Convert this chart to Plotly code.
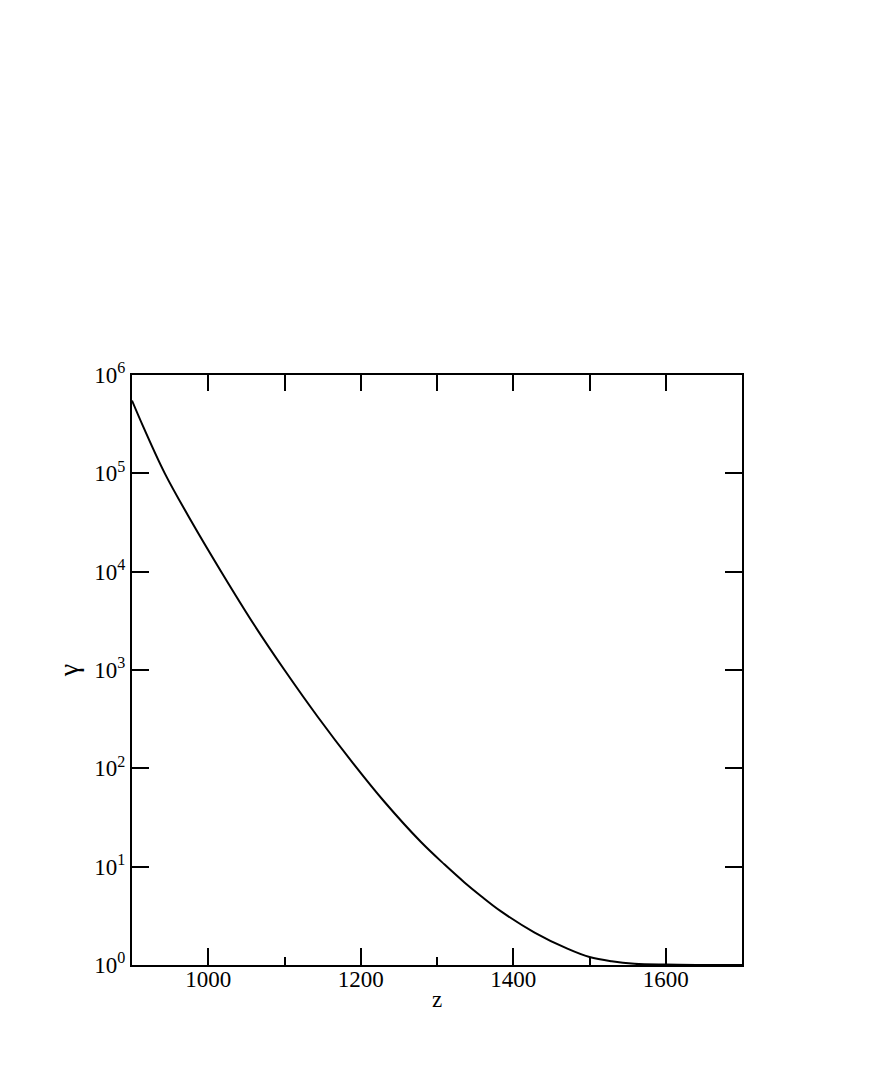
import plotly.graph_objects as go

# values (z vs gamma, log y axis)
z = [900, 915, 943, 978, 1017, 1061, 1100, 1144, 1189, 1231, 1279, 1310,
     1336, 1358, 1384, 1428, 1471, 1500, 1529, 1559, 1600, 1650, 1700]
gamma = [5.5e5, 2.95e5, 1.0e5, 3.24e4, 1.0e4, 2818, 1000, 331, 115, 45.7, 17.8, 10.5,
         6.92, 5.01, 3.51, 2.14, 1.466, 1.205, 1.091, 1.030, 1.009, 1.002, 1.0]

y_tickvals = [1, 10, 100, 1e3, 1e4, 1e5, 1e6]
y_ticktext = ["10<sup>%d</sup>" % k for k in range(7)]
x_tickvals = [1000, 1200, 1400, 1600]

FONT = "Liberation Serif, Times New Roman, serif"

fig = go.Figure()
fig.add_trace(go.Scatter(x=z, y=gamma, mode="lines", line_shape="spline",
                         line=dict(color="black", width=2, smoothing=1.0),
                         showlegend=False, hoverinfo="x+y"))
# invisible trace so the top axis gets drawn
fig.add_trace(go.Scatter(x=[900, 1700], y=[1, 1], xaxis="x2", mode="lines",
                         line=dict(width=0), showlegend=False, hoverinfo="skip"))

fig.update_layout(
    width=872, height=1090,
    margin=dict(l=124, r=138, t=367, b=133),
    paper_bgcolor="white", plot_bgcolor="white",
    font=dict(family=FONT, size=23, color="black"),
    xaxis=dict(
        range=[900, 1700], tickvals=x_tickvals, ticks="inside", ticklen=17,
        tickwidth=1.5, tickcolor="black", ticklabelstandoff=-8,
        minor=dict(tickvals=[1100, 1300, 1500], ticks="inside", ticklen=8,
                   tickwidth=1.5, tickcolor="black"),
        showline=True, linecolor="black", linewidth=2, showgrid=False,
        zeroline=False, tickfont=dict(size=23),
        title=dict(text="z", font=dict(size=23), standoff=0),
    ),
    xaxis2=dict(
        range=[900, 1700], overlaying="x", side="top", dtick=100, tick0=900,
        ticks="inside", ticklen=16, tickwidth=1.5, tickcolor="black",
        showticklabels=False, showline=True, linecolor="black", linewidth=2,
        showgrid=False, zeroline=False,
    ),
    yaxis=dict(
        type="log", range=[0, 6], tickvals=y_tickvals, ticktext=y_ticktext,
        ticks="inside", ticklen=17, tickwidth=1.5, tickcolor="black",
        mirror="ticks", showline=True, linecolor="black", linewidth=2,
        showgrid=False, zeroline=False, tickfont=dict(size=23),
        title=dict(text="γ", font=dict(size=28), standoff=8),
    ),
)

fig.write_html("out.html")
